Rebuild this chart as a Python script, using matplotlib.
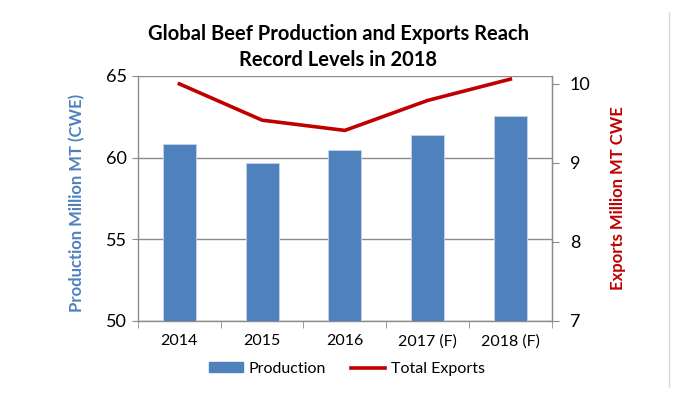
import matplotlib
matplotlib.use("Agg")
import matplotlib.pyplot as plt
from matplotlib.lines import Line2D
from matplotlib.patches import Patch
import numpy as np

plt.rcParams['font.family'] = ['Lato', 'DejaVu Sans']

years = ["2014", "2015", "2016", "2017 (F)", "2018 (F)"]
production = [60.82, 59.67, 60.47, 61.37, 62.53]
exports = [10.00, 9.54, 9.41, 9.79, 10.06]

W, H = 700, 401
fig = plt.figure(figsize=(W / 100, H / 100), dpi=100)

x0, x1 = 138, 551.7
ytop, ybot = 76, 320.5
ax = fig.add_axes([x0 / W, (H - ybot) / H, (x1 - x0) / W, (ybot - ytop) / H])

blue = '#4F81BD'
red = '#C00000'
grid = '#8C8C8C'

x = np.arange(len(years))
ax.bar(x, production, width=0.4, color=blue, edgecolor='#C6D5EA', linewidth=0.6, zorder=3)
ax.set_xlim(-0.5, len(years) - 0.5)
ax.set_ylim(50, 65)
ax.set_yticks([50, 55, 60, 65])
ax.yaxis.grid(True, color=grid, linewidth=1, zorder=0)
ax.set_axisbelow(True)

ax.spines['top'].set_visible(False)
for s in ['left', 'bottom', 'right']:
    ax.spines[s].set_color(grid)
    ax.spines[s].set_linewidth(1)

ax.set_xticks(x)
ax.set_xticklabels(years, fontsize=11.5, color='#000000')
ax.tick_params(axis='x', which='major', length=0, pad=10)
ax.set_xticks(np.arange(-0.5, len(years), 1.0), minor=True)
ax.tick_params(axis='x', which='minor', length=5, color=grid, direction='out')
ax.tick_params(axis='y', which='major', length=4, color=grid, direction='out', labelsize=13, pad=4)

ax.set_ylabel('Production Million MT (CWE)', color=blue, fontsize=12, fontweight='bold')
ax.yaxis.set_label_coords(-0.128, 0.48)

ax2 = ax.twinx()
ax2.plot(x, exports, color=red, linewidth=2.6, zorder=4, solid_joinstyle='round')
ax2.set_ylim(7, 10.1)
ax2.set_yticks([7, 8, 9, 10])
for s in ['top', 'left', 'bottom']:
    ax2.spines[s].set_visible(False)
ax2.spines['right'].set_color(grid)
ax2.tick_params(axis='y', length=5, color=grid, direction='out', labelsize=13, pad=8)
ax2.set_ylabel('Exports Million MT CWE', color=red, fontsize=12, fontweight='bold', labelpad=14)

fig.text(338 / W, 1 - 34 / H, 'Global Beef Production and Exports Reach', ha='center', va='center',
         fontsize=14.5, fontweight='bold')
fig.text(338 / W, 1 - 60 / H, 'Record Levels in 2018', ha='center', va='center',
         fontsize=14.5, fontweight='bold')

handles = [Patch(facecolor=blue, edgecolor=blue), Line2D([0], [0], color=red, linewidth=2.6)]
fig.legend(handles, ['Production', 'Total Exports'], loc='center', bbox_to_anchor=(347 / W, 1 - 369 / H),
           ncol=2, frameon=False, fontsize=11.5, handlelength=2.1, handleheight=0.6, columnspacing=1.6,
           handletextpad=0.35)

fig.add_artist(Line2D([669 / W, 669 / W], [1 - 12 / H, 1 - 387 / H], color='#D9D9D9', linewidth=1))

fig.savefig('out.png', dpi=100)
